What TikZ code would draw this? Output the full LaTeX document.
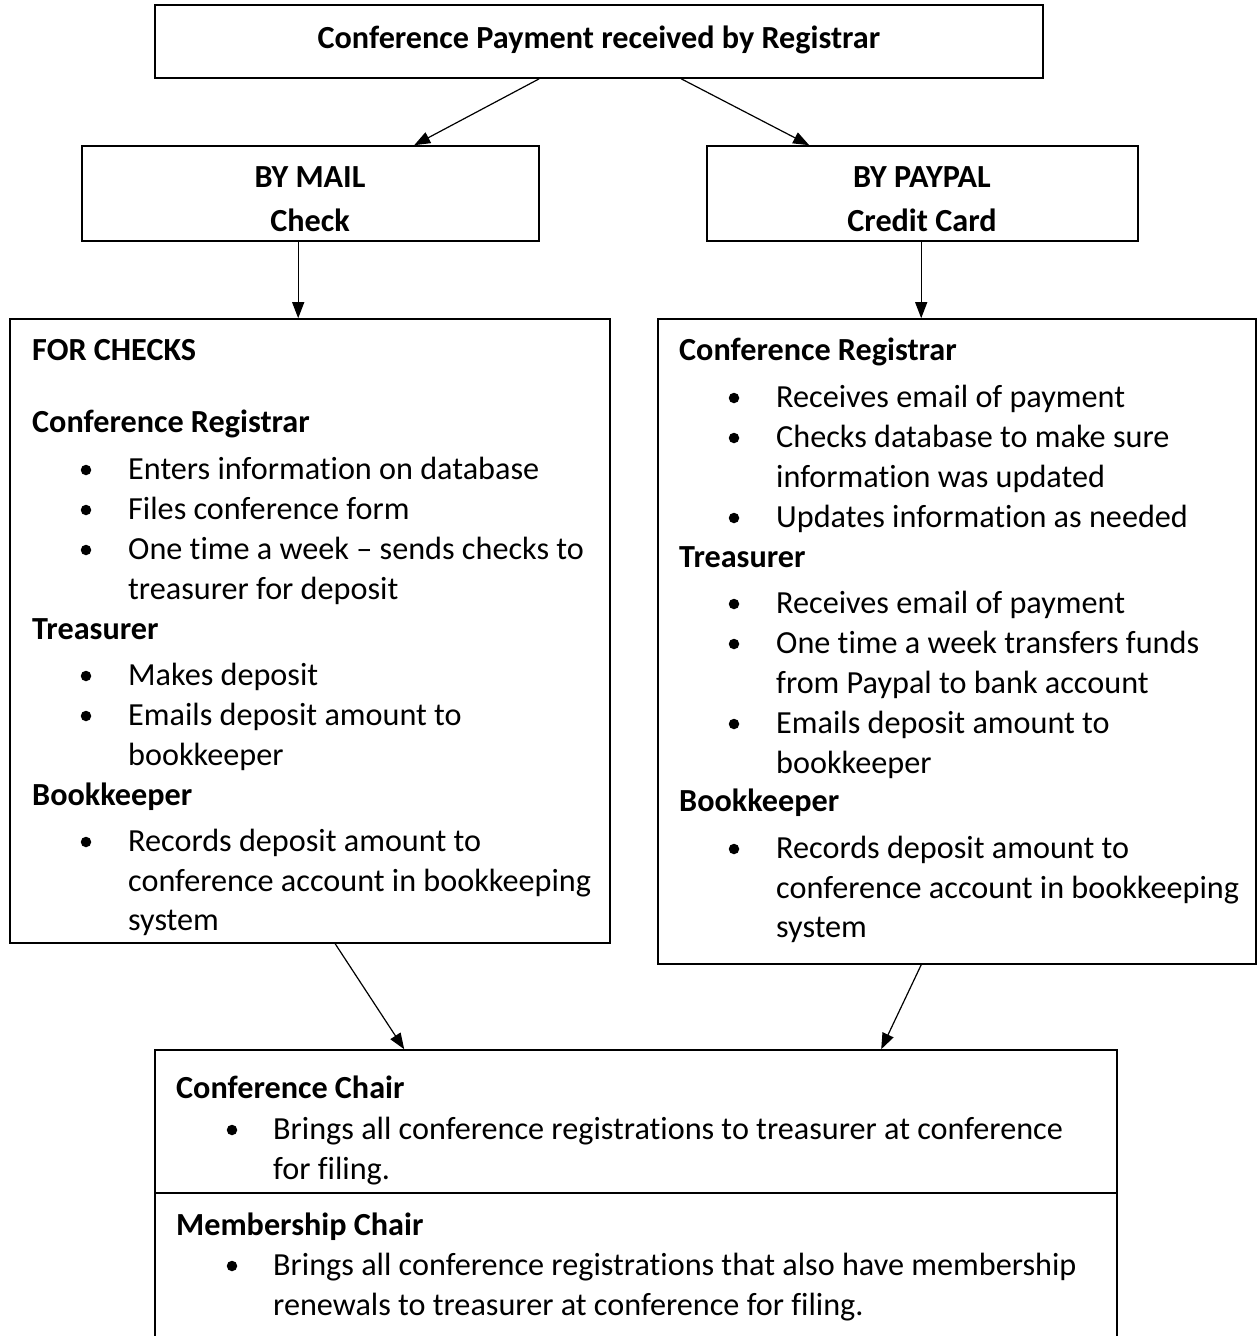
\documentclass[tikz,border=0pt]{standalone}
\usepackage{fontspec}
\setmainfont{Carlito}[Ligatures={NoCommon,NoContextual}, Contextuals=NoAlternate]
\usetikzlibrary{arrows.meta}
\tikzset{
  box/.style={draw, line width=1.6pt, inner sep=0pt, rectangle},
  hd/.style={anchor=base west, inner sep=0pt, font=\bfseries},
  hdc/.style={anchor=base, inner sep=0pt, font=\bfseries},
  tx/.style={anchor=base west, inner sep=0pt},
  bul/.style={circle, fill, inner sep=0pt, minimum size=10.5pt},
  arr/.style={line width=1.2pt, -{Triangle[length=16pt,width=12pt]}}
}
\begin{document}
\begin{tikzpicture}[x=1pt,y=-1pt]
\fontsize{32.2}{40}\selectfont
\useasboundingbox (0,0) rectangle (1257,1336);
\clip (0,0) rectangle (1257,1336);
\fill[white] (0,0) rectangle (1257,1336);
% boxes
\node[box, minimum width=888pt, minimum height=73pt] (top) at (599,41.5) {};
\node[box, minimum width=457pt, minimum height=95pt] (mail) at (310.5,193.5) {};
\node[box, minimum width=431pt, minimum height=95pt] (paypal) at (922.5,193.5) {};
\node[box, minimum width=600pt, minimum height=624pt] (left) at (310,631) {};
\node[box, minimum width=598pt, minimum height=645pt] (right) at (957,641.5) {};
\node[box, minimum width=962pt, minimum height=295pt] (bottom) at (636,1197.5) {};
\coordinate (divL) at (155,1193);
\coordinate (divR) at (1117,1193);
\draw[line width=1.6pt] (divL) -- (divR);
% top texts
\node[hdc] (ttop) at (599,48) {Conference Payment received by Registrar};
\node[hdc] (tmail1) at (310,187) {BY MAIL};
\node[hdc] (tmail2) at (310,231) {Check};
\node[hdc] (tpay1) at (922,187) {BY PAYPAL};
\node[hdc] (tpay2) at (922,231) {Credit Card};
% left box
\node[hd] (l1) at (32,360) {FOR CHECKS};
\node[hd] (l2) at (32,432) {Conference Registrar};
\node[bul] (lb1) at (86,470) {}; \node[tx] (l3) at (128,479) {Enters information on database};
\node[bul] (lb2) at (86,510) {}; \node[tx] (l4) at (128,519) {Files conference form};
\node[bul] (lb3) at (86,550) {}; \node[tx] (l5) at (128,559) {One time a week – sends checks to};
\node[tx] (l6) at (128,599) {treasurer for deposit};
\node[hd] (l7) at (32,639) {Treasurer};
\node[bul] (lb4) at (86,676) {}; \node[tx] (l8) at (128,685) {Makes deposit};
\node[bul] (lb5) at (86,716) {}; \node[tx] (l9) at (128,725) {Emails deposit amount to};
\node[tx] (l10) at (128,765) {bookkeeper};
\node[hd] (l11) at (32,805) {Bookkeeper};
\node[bul] (lb6) at (86,842) {}; \node[tx] (l12) at (128,851) {Records deposit amount to};
\node[tx] (l13) at (128,891) {conference account in bookkeeping};
\node[tx] (l14) at (128,930) {system};
% right box
\node[hd] (r1) at (679,360) {Conference Registrar};
\node[bul] (rb1) at (734,398) {}; \node[tx] (r2) at (776,407) {Receives email of payment};
\node[bul] (rb2) at (734,438) {}; \node[tx] (r3) at (776,447) {Checks database to make sure};
\node[tx] (r4) at (776,487) {information was updated};
\node[bul] (rb3) at (734,518) {}; \node[tx] (r5) at (776,527) {Updates information as needed};
\node[hd] (r6) at (679,567) {Treasurer};
\node[bul] (rb4) at (734,604) {}; \node[tx] (r7) at (776,613) {Receives email of payment};
\node[bul] (rb5) at (734,644) {}; \node[tx] (r8) at (776,653) {One time a week transfers funds};
\node[tx] (r9) at (776,693) {from Paypal to bank account};
\node[bul] (rb6) at (734,724) {}; \node[tx] (r10) at (776,733) {Emails deposit amount to};
\node[tx] (r11) at (776,773) {bookkeeper};
\node[hd] (r12) at (679,811) {Bookkeeper};
\node[bul] (rb7) at (734,849) {}; \node[tx] (r13) at (776,858) {Records deposit amount to};
\node[tx] (r14) at (776,898) {conference account in bookkeeping};
\node[tx] (r15) at (776,937) {system};
% bottom box
\node[hd] (b1) at (176,1098) {Conference Chair};
\node[bul] (bb1) at (232,1130) {}; \node[tx] (b2) at (273,1139) {Brings all conference registrations to treasurer at conference};
\node[tx] (b3) at (273,1179) {for filing.};
\node[hd] (b4) at (176,1235) {Membership Chair};
\node[bul] (bb2) at (232,1266) {}; \node[tx] (b5) at (273,1275) {Brings all conference registrations that also have membership};
\node[tx] (b6) at (273,1315) {renewals to treasurer at conference for filing.};
% connectors
\draw[arr] ([xshift=385pt]top.south west) -- ([xshift=333pt]mail.north west);
\draw[arr] ([xshift=527pt]top.south west) -- ([xshift=103pt]paypal.north west);
\draw[arr] ([xshift=217pt]mail.south west) -- ([xshift=289pt]left.north west);
\draw[arr] ([xshift=215pt]paypal.south west) -- ([xshift=264pt]right.north west);
\draw[arr] ([xshift=326pt]left.south west) -- ([xshift=250pt]bottom.north west);
\draw[arr] ([xshift=264pt]right.south west) -- ([xshift=727pt]bottom.north west);
\end{tikzpicture}
\end{document}
